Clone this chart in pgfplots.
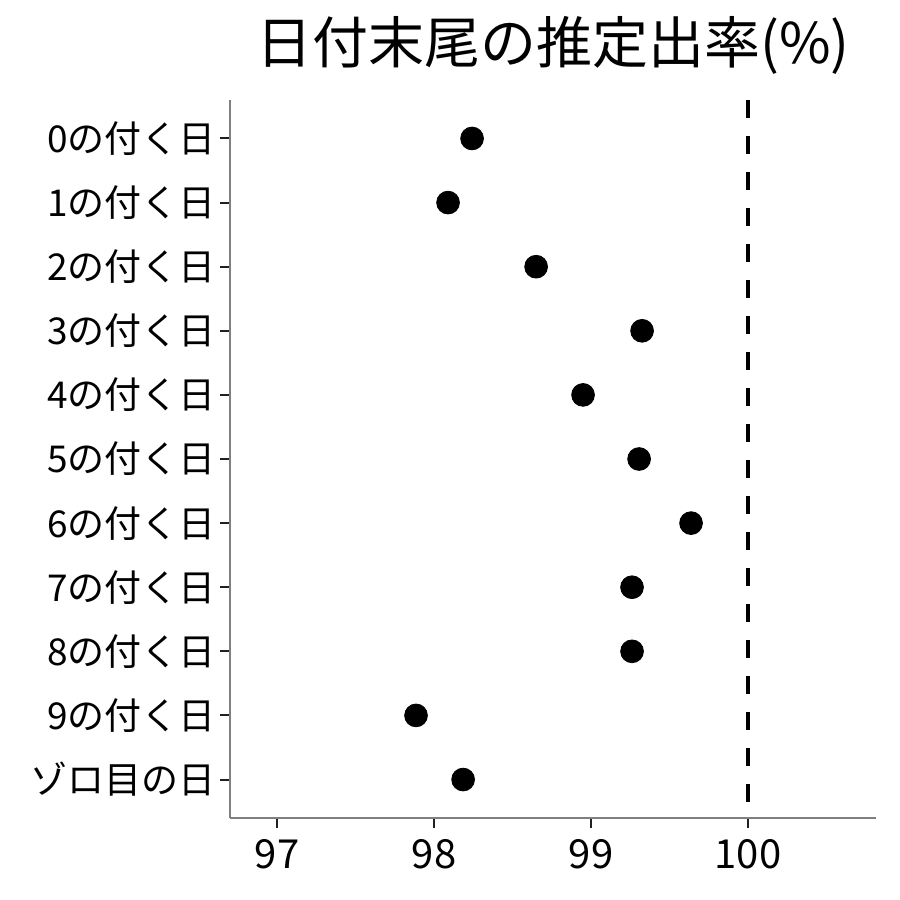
\documentclass[border=0pt]{standalone}
\usepackage{fontspec}
\setmainfont{Noto Sans CJK JP}
\usepackage{pgfplots}
\pgfplotsset{compat=1.18}

\pgfplotstableread{
idx rate
0 98.242
1 98.089
2 98.650
3 99.325
4 98.949
5 99.306
6 99.637
7 99.261
8 99.261
9 97.885
10 98.185
}\ratetable

\begin{document}
\begin{tikzpicture}
\useasboundingbox (-115pt,-41pt) rectangle (335pt,409pt);
\begin{axis}[
  at={(0,0)}, anchor=south west,
  scale only axis,
  width=323pt, height=359pt,
  xmin=96.70, xmax=100.815,
  ymin=-0.6, ymax=10.6,
  y dir=reverse,
  axis lines=left,
  axis line style={-, draw=gray, line width=0.8pt},
  xtick={97,98,99,100},
  ytick={0,...,10},
  yticklabels={0の付く日,1の付く日,2の付く日,3の付く日,4の付く日,5の付く日,6の付く日,7の付く日,8の付く日,9の付く日,ゾロ目の日},
  tick align=outside,
  major tick length=5pt,
  tick style={gray!25!black, line width=1pt},
  yticklabel style={font=\fontsize{18.5pt}{21pt}\selectfont, xshift=1.5pt},
  xticklabel style={font=\fontsize{20pt}{23pt}\selectfont, yshift=-2pt},
  /pgf/number format/assume math mode=true,
  clip=false,
]
\addplot[black, line width=2pt, dash pattern=on 9pt off 9pt, forget plot]
  coordinates {(100,-0.6) (100,10.6)};
\addplot[only marks, mark=*, mark size=5.7pt, black] table[x=rate, y=idx] {\ratetable};
\end{axis}
\node[font=\fontsize{28pt}{32pt}\selectfont] at (161.5pt,386.5pt) {日付末尾の推定出率(\%)};
\end{tikzpicture}
\end{document}
